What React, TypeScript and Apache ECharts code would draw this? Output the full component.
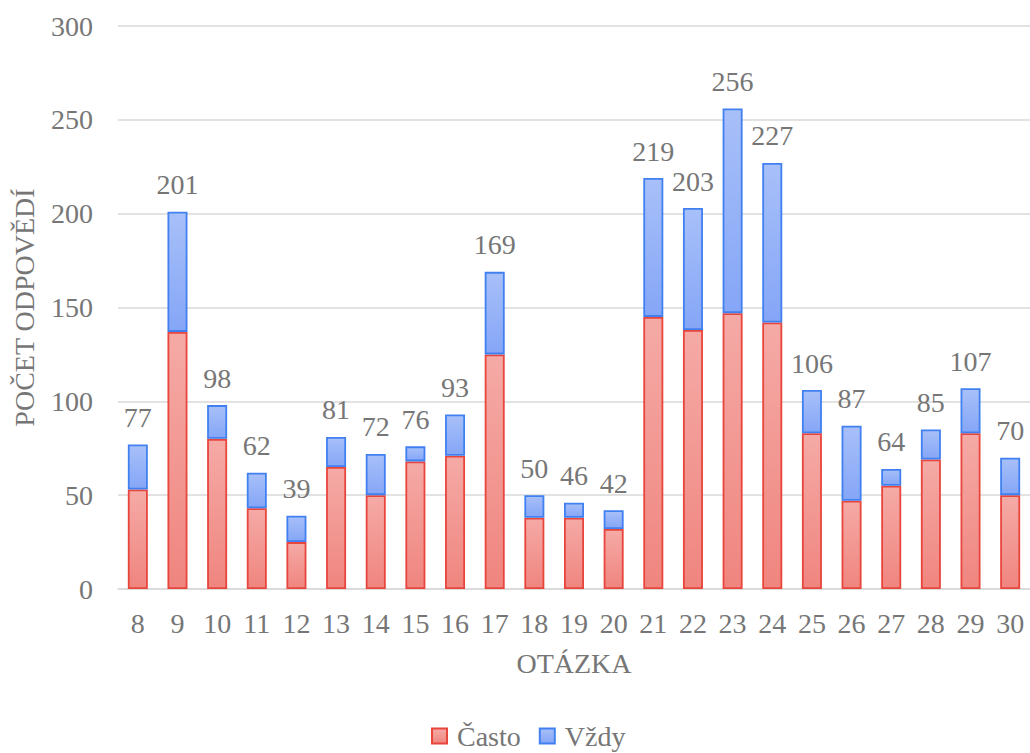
import React, { useEffect, useRef } from "react";
import * as echarts from "echarts";

const categories = ["8","9","10","11","12","13","14","15","16","17","18","19","20","21","22","23","24","25","26","27","28","29","30"];
const casto = [53,137,80,43,25,65,50,68,71,125,38,38,32,145,138,147,142,83,47,55,69,83,50];
const totals = [77,201,98,62,39,81,72,76,93,169,50,46,42,219,203,256,227,106,87,64,85,107,70];
const vzdy = totals.map((t, i) => t - casto[i]);
const yTicks = [0, 300, 50];

const FONT = "Liberation Serif, serif";
const GRAY = "#767676";

export default function App() {
  const ref = useRef<HTMLDivElement>(null);
  useEffect(() => {
    const chart = echarts.init(ref.current!, null, { renderer: "svg" });
    const red = new echarts.graphic.LinearGradient(0, 0, 0, 1, [
      { offset: 0, color: "#f5aaa6" },
      { offset: 1, color: "#f0857f" },
    ]);
    const blue = new echarts.graphic.LinearGradient(0, 0, 0, 1, [
      { offset: 0, color: "#a8c0f9" },
      { offset: 1, color: "#85a6f7" },
    ]);
    chart.setOption({
      animation: false,
      textStyle: { fontFamily: FONT },
      grid: { left: 118, right: -7, top: 26, bottom: 164, containLabel: false },
      legend: {
        bottom: -2,
        left: 426,
        icon: "rect",
        itemWidth: 15,
        itemHeight: 15,
        itemGap: 18,
        textStyle: { fontFamily: FONT, fontSize: 28, color: GRAY, padding: [0, 0, 0, 5] },
        data: ["Často", "Vždy"],
      },
      xAxis: {
        type: "category",
        data: categories,
        name: "OTÁZKA",
        nameLocation: "middle",
        nameGap: 60,
        nameTextStyle: { fontFamily: FONT, fontSize: 28, color: GRAY },
        axisLine: { lineStyle: { color: "#d9d9d9", width: 1.5 } },
        axisTick: { show: false },
        axisLabel: { fontFamily: FONT, fontSize: 28, color: GRAY, margin: 20 },
      },
      yAxis: {
        type: "value",
        min: yTicks[0],
        max: yTicks[1],
        interval: yTicks[2],
        name: "POČET ODPOVĚDÍ",
        nameLocation: "middle",
        nameGap: 80,
        nameTextStyle: { fontFamily: FONT, fontSize: 28, color: GRAY },
        axisLine: { show: false },
        axisTick: { show: false },
        axisLabel: { fontFamily: FONT, fontSize: 28, color: GRAY, margin: 25 },
        splitLine: { lineStyle: { color: "#d9d9d9", width: 1.5 } },
      },
      series: [
        {
          name: "Často",
          type: "bar",
          stack: "a",
          barWidth: 20,
          data: casto,
          itemStyle: { color: red, borderColor: "#e8453d", borderWidth: 1.8 },
        },
        {
          name: "Vždy",
          type: "bar",
          stack: "a",
          barWidth: 20,
          data: vzdy,
          itemStyle: { color: blue, borderColor: "#4080f0", borderWidth: 1.8 },
          label: {
            show: true,
            position: "top",
            distance: 13,
            fontFamily: FONT,
            fontSize: 28,
            color: GRAY,
            formatter: (p: any) => String(totals[p.dataIndex]),
          },
        },
      ],
    });
    return () => chart.dispose();
  }, []);
  return (
    <div
      ref={ref}
      style={{ position: "fixed", left: 0, top: 0, width: 1030, height: 753, background: "#fff" }}
    />
  );
}
